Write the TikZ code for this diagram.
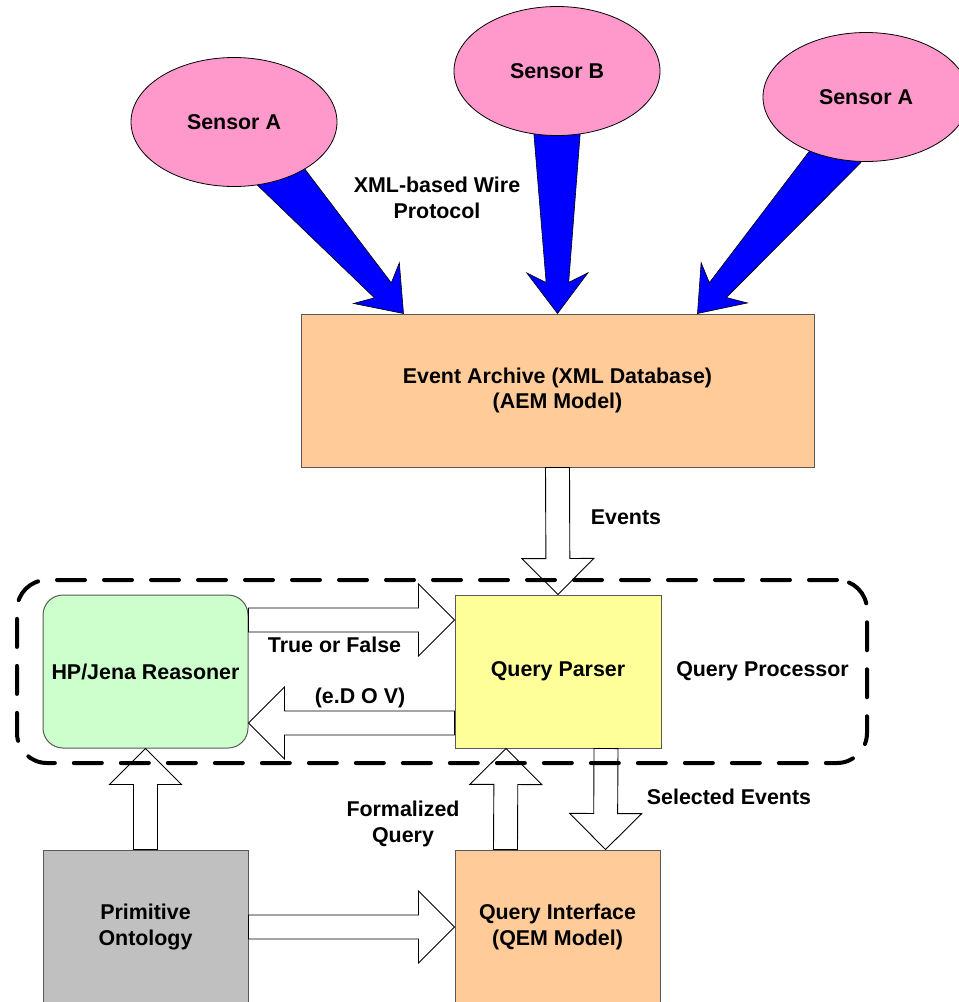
\documentclass[tikz,border=0pt]{standalone}
\usepackage{fontspec}
\setmainfont{Liberation Sans}
\usepackage{tikz}
\usetikzlibrary{
    calc,
    shapes.geometric,
    backgrounds
}
\definecolor{sensorpink}{RGB}{255,153,204}
\definecolor{archivepeach}{RGB}{255,204,153}
\definecolor{parseryellow}{RGB}{255,255,153}
\definecolor{reasonergreen}{RGB}{204,255,204}
\definecolor{ontologygray}{RGB}{192,192,192}
\tikzset{
    sensor/.style={ellipse,draw=black,line width=0.8pt,fill=sensorpink,
        minimum width=206pt,minimum height=129pt},
    box/.style={rectangle,draw=black!65,line width=1pt,align=center,
        minimum width=205pt,minimum height=153pt},
    wire/.style={draw=black,line width=0.6pt,fill=blue},
    hollow/.style={draw=black,line width=0.9pt,fill=white},
    frame/.style={draw=black,line width=4pt,line cap=round,
        dash pattern=on 28pt off 19pt,rounded corners=30pt},
    lbl/.style={align=center,inner sep=1pt}
}
\newcommand{\wirearrow}[2]{%
    \draw[wire] ($(#1)!24pt!90:(#2)$) -- ($(#2)!33pt!-20:(#1)$)
        -- ($(#2)!51pt!-37:(#1)$) -- (#2) -- ($(#2)!51pt!37:(#1)$)
        -- ($(#2)!33pt!20:(#1)$) -- ($(#1)!24pt!-90:(#2)$) -- cycle;}
\newcommand{\hollowarrow}[2]{%
    \draw[hollow] ($(#1)!12pt!90:(#2)$) -- ($(#2)!37.9pt!-18.4:(#1)$)
        -- ($(#2)!50.9pt!-45:(#1)$) -- (#2) -- ($(#2)!50.9pt!45:(#1)$)
        -- ($(#2)!37.9pt!18.4:(#1)$) -- ($(#1)!12pt!-90:(#2)$) -- cycle;}

\begin{document}
\begin{tikzpicture}[x=1pt,y=-1pt,font=\fontsize{21.4}{25.5}\selectfont\bfseries]
    \useasboundingbox (0,0) rectangle (959,1002);

    \node[sensor] (sa1) at (234,122) {Sensor A};
    \node[sensor] (sb)  at (557,71)  {Sensor B};
    \node[sensor] (sa2) at (866,97)  {Sensor A};

    \node[box,fill=archivepeach,minimum width=513pt] (ea) at (557.5,390.5)
        {Event Archive (XML Database)\\(AEM Model)};
    \node[box,fill=parseryellow,minimum width=206pt] (qp) at (558,671.5) {Query Parser};
    \node[box,fill=reasonergreen,rounded corners=20pt] (rs) at (145.5,671.5) {HP/Jena Reasoner};
    \node[box,fill=ontologygray,minimum height=154pt] (po) at (145.5,927) {Primitive\\Ontology};
    \node[box,fill=archivepeach,minimum height=154pt] (qi) at (557.5,927)
        {Query Interface\\(QEM Model)};

    \coordinate (t1) at ($(sa1)!0.8!(sa1.-49)$);
    \coordinate (t2) at ($(sb)!0.8!(sb.south)$);
    \coordinate (t3) at ($(sa2)!0.8!(sa2.-115)$);
    \coordinate (w1) at ([xshift=-154pt]ea.north);
    \coordinate (w2) at (ea.north);
    \coordinate (w3) at ([xshift=140pt]ea.north);
    \begin{scope}[on background layer]
        \wirearrow{t1}{w1}
        \wirearrow{t2}{w2}
        \wirearrow{t3}{w3}
    \end{scope}

    \coordinate (tf1) at ([yshift=51.5pt]rs.east);
    \coordinate (tf2) at ([yshift=51.5pt]qp.west);
    \coordinate (ed1) at ([yshift=-51.5pt]qp.west);
    \coordinate (ed2) at ([yshift=-51.5pt]rs.east);
    \coordinate (fq1) at ([xshift=-52pt]qi.north);
    \coordinate (fq2) at ([xshift=-52pt]qp.south);
    \coordinate (se1) at ([xshift=48pt]qp.south);
    \coordinate (se2) at ([xshift=48pt]qi.north);

    \hollowarrow{ea.south}{qp.north}
    \hollowarrow{tf1}{tf2}
    \hollowarrow{ed1}{ed2}
    \hollowarrow{po.north}{rs.south}
    \hollowarrow{po.east}{qi.west}
    \hollowarrow{fq1}{fq2}
    \hollowarrow{se1}{se2}

    \node[frame,minimum width=850pt,minimum height=183pt] (qproc) at (442,671.5) {};

    \node[lbl] (wirelbl) at (437,198) {XML-based Wire\\Protocol};
    \node[lbl] (evlbl)   at (626,517) {Events};
    \node[lbl] (tflbl)   at (334.5,645) {True or False};
    \node[lbl] (edlbl)   at (360,698) {(e.D O V)};
    \node[lbl] (qplbl)   at (762.5,671) {Query Processor};
    \node[lbl] (selbl)   at (729,797) {Selected Events};
    \node[lbl] (fqlbl)   at (403,824) {Formalized\\Query};
\end{tikzpicture}
\end{document}
